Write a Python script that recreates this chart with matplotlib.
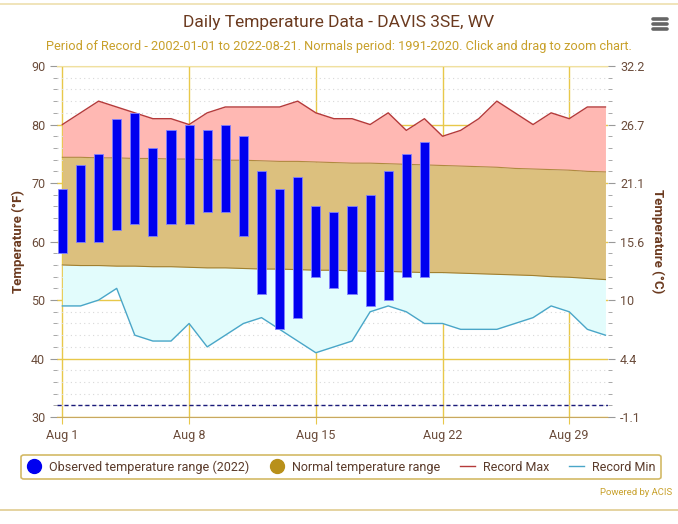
import matplotlib.pyplot as plt
import numpy as np
from matplotlib.lines import Line2D
from matplotlib.ticker import MultipleLocator

plt.rcParams['font.family'] = ['Roboto', 'DejaVu Sans']

# days of August 2022 (index 0 = Aug 1)
days = np.arange(31)
tick_days = [0, 7, 14, 21, 28]
tick_labels = ['Aug 1', 'Aug 8', 'Aug 15', 'Aug 22', 'Aug 29']

record_max = [80, 82, 84, 83, 82, 81, 81, 80, 82, 83, 83, 83, 83, 84, 82, 81,
              81, 80, 82, 79, 81, 78, 79, 81, 84, 82, 80, 82, 81, 83, 83]
record_min = [49, 49, 50, 52, 44, 43, 43, 46, 42, 44, 46, 47, 45, 43, 41, 42,
              43, 48, 49, 48, 46, 46, 45, 45, 45, 46, 47, 49, 48, 45, 44]
normal_high = [74.4, 74.4, 74.3, 74.3, 74.2, 74.2, 74.1, 74.1, 74.0, 73.9, 73.9,
               73.8, 73.7, 73.7, 73.6, 73.5, 73.4, 73.4, 73.3, 73.2, 73.1, 73.0,
               72.9, 72.8, 72.7, 72.5, 72.4, 72.3, 72.2, 72.0, 71.9]
normal_low = [56.0, 55.9, 55.9, 55.8, 55.8, 55.7, 55.7, 55.6, 55.5, 55.5, 55.4,
              55.3, 55.3, 55.2, 55.1, 55.1, 55.0, 54.9, 54.9, 54.8, 54.7, 54.7,
              54.6, 54.5, 54.4, 54.3, 54.2, 54.0, 53.9, 53.7, 53.5]
obs_high = [69, 73, 75, 81, 82, 76, 79, 80, 79, 80, 78, 72, 69, 71, 66, 65, 66,
            68, 72, 75, 77]
obs_low = [58, 60, 60, 62, 63, 61, 63, 63, 65, 65, 61, 51, 45, 47, 54, 52, 51,
           49, 50, 54, 54]

brown = '#6b3a1f'
gold = '#e8c84a'

fig = plt.figure(figsize=(6.78, 5.24), dpi=100)
ax = fig.add_axes([0.084, 0.204, 0.813, 0.670])

ax.fill_between(days, normal_high, record_max, color='#ffb8b3', lw=0)
ax.fill_between(days, normal_low, normal_high, color='#dcc07e', lw=0)
ax.fill_between(days, record_min, normal_low, color='#e2fcfc', lw=0)
ax.plot(days, normal_high, color='#b08a40', lw=0.8)
ax.plot(days, normal_low, color='#a08030', lw=0.8)
ax.plot(days, record_max, color='#b53a3a', lw=1)
ax.plot(days, record_min, color='#4aa6c8', lw=1)

obs_days = days[:len(obs_high)]
ax.bar(obs_days, np.array(obs_high) - np.array(obs_low), bottom=obs_low,
       width=0.5, color='#0000f0', edgecolor='#8080ff', lw=0.6, zorder=4)

ax.axhline(32, color='#1a1a7a', lw=1, ls=(0, (3, 2)), zorder=5)

ax.set_xlim(-0.3, 30.15)
ax.set_ylim(30, 90)
ax.set_xticks(tick_days)
ax.set_xticklabels(tick_labels)
ax.yaxis.set_major_locator(MultipleLocator(10))
ax.yaxis.set_minor_locator(MultipleLocator(2))
ax.grid(which='major', color=gold, lw=1, zorder=0)
ax.grid(which='minor', axis='y', color='#d8d8d8', lw=0.8, ls=(0, (1, 3)))
ax.set_axisbelow(True)
for s in ['left', 'right']:
    ax.spines[s].set_visible(False)
ax.spines['top'].set_color('#f0e0a0')
ax.spines['bottom'].set_color('#c8a860')
ax.tick_params(axis='both', which='both', colors='#999999', labelcolor='#6b4c3b',
               labelsize=9)
ax.tick_params(axis='y', which='major', length=5)
ax.tick_params(axis='y', which='minor', length=3)
ax.tick_params(axis='x', length=5, color=gold)
ax.set_ylabel('Temperature (°F)', color=brown, fontweight='bold', fontsize=9.5)

ax2 = ax.twinx()
ax2.set_ylim(30, 90)
ax2.yaxis.set_major_locator(MultipleLocator(10))
ax2.yaxis.set_minor_locator(MultipleLocator(2))
ax2.set_yticks(range(30, 100, 10))
ax2.set_yticklabels(['%g' % round((f - 32) * 5 / 9, 1) for f in range(30, 100, 10)])
for s in ax2.spines.values():
    s.set_visible(False)
ax2.tick_params(axis='y', which='both', colors='#999999', labelcolor='#6b4c3b',
                labelsize=9)
ax2.tick_params(axis='y', which='major', length=5)
ax2.tick_params(axis='y', which='minor', length=3)
ax2.set_ylabel('Temperature (°C)', color=brown, fontweight='bold', fontsize=9.5,
               rotation=270, labelpad=14)

fig.text(0.5, 0.958, 'Daily Temperature Data - DAVIS 3SE, WV', ha='center',
         va='center', fontsize=12.5, color=brown)
fig.text(0.5, 0.912, 'Period of Record - 2002-01-01 to 2022-08-21. Normals period: '
         '1991-2020. Click and drag to zoom chart.', ha='center', va='center',
         fontsize=9.2, color='#c8a02a')
fig.text(0.991, 0.061, 'Powered by ACIS', ha='right', va='center', fontsize=6.8,
         color='#c8a02a')

# menu icon
for yy in [0.963, 0.954, 0.945]:
    fig.add_artist(Line2D([0.963, 0.984], [yy, yy], color='#666666', lw=2.6,
                          solid_capstyle='round'))
# page border lines
fig.add_artist(Line2D([0, 1], [0.993, 0.993], color='#eedfae', lw=1.2))
fig.add_artist(Line2D([0, 1], [0.027, 0.027], color='#e0cc90', lw=1.2))

handles = [
    Line2D([], [], marker='o', ls='', color='#0000f0', markersize=10),
    Line2D([], [], marker='o', ls='', color='#b8901a', markersize=10),
    Line2D([], [], color='#b53a3a', lw=1),
    Line2D([], [], color='#4aa6c8', lw=1),
]
labels = ['Observed temperature range (2022)', 'Normal temperature range',
          'Record Max', 'Record Min']
leg = fig.legend(handles, labels, loc='center', bbox_to_anchor=(0.503, 0.109),
                 ncol=4, fontsize=9, frameon=True, fancybox=True,
                 edgecolor='#c8a840', handlelength=1.2, handletextpad=0.6,
                 columnspacing=1.6, borderpad=0.45)
for t in leg.get_texts():
    t.set_color('#5a3a2a')
leg.get_frame().set_linewidth(1.2)

fig.savefig('out.png', dpi=100)
